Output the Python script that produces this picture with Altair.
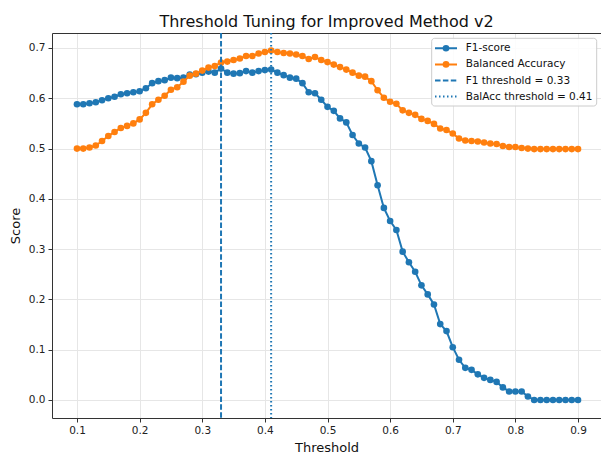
import altair as alt
import pandas as pd

# Decision thresholds swept from 0.10 to 0.90
thresholds = [round(0.10 + 0.01 * i, 2) for i in range(81)]

f1_score = [
    0.588, 0.588, 0.590, 0.592, 0.596, 0.600, 0.603, 0.608, 0.610, 0.612,
    0.614, 0.620, 0.630, 0.634, 0.636, 0.641, 0.640, 0.641, 0.647, 0.648,
    0.651, 0.653, 0.651, 0.659, 0.651, 0.649, 0.650, 0.654, 0.651, 0.654,
    0.656, 0.657, 0.651, 0.646, 0.641, 0.639, 0.630, 0.612, 0.610, 0.597,
    0.583, 0.575, 0.560, 0.552, 0.527, 0.510, 0.502, 0.475, 0.427, 0.382,
    0.356, 0.338, 0.295, 0.274, 0.255, 0.228, 0.210, 0.190, 0.151, 0.137,
    0.105, 0.080, 0.064, 0.060, 0.051, 0.044, 0.040, 0.036, 0.025, 0.017,
    0.017, 0.017, 0.007, 0.000, 0.000, 0.000, 0.000, 0.000, 0.000, 0.000,
    0.000,
]

balanced_accuracy = [
    0.500, 0.500, 0.502, 0.506, 0.515, 0.525, 0.533, 0.541, 0.545, 0.550,
    0.558, 0.571, 0.588, 0.597, 0.605, 0.617, 0.622, 0.633, 0.645, 0.649,
    0.655, 0.661, 0.664, 0.671, 0.673, 0.676, 0.679, 0.684, 0.684, 0.689,
    0.692, 0.695, 0.692, 0.690, 0.689, 0.687, 0.684, 0.678, 0.682, 0.676,
    0.672, 0.667, 0.662, 0.657, 0.651, 0.645, 0.643, 0.634, 0.616, 0.601,
    0.593, 0.589, 0.576, 0.571, 0.567, 0.559, 0.555, 0.549, 0.540, 0.537,
    0.530, 0.520, 0.516, 0.515, 0.514, 0.512, 0.510, 0.509, 0.505, 0.503,
    0.503, 0.501, 0.500, 0.499, 0.499, 0.499, 0.499, 0.499, 0.499, 0.499,
    0.499,
]

x_ticks = [0.1, 0.2, 0.3, 0.4, 0.5, 0.6, 0.7, 0.8, 0.9]
y_ticks = [0.0, 0.1, 0.2, 0.3, 0.4, 0.5, 0.6, 0.7]

BLUE = "#1f77b4"
ORANGE = "#ff7f0e"

# Best threshold for each metric
best_f1_t = thresholds[f1_score.index(max(f1_score))]
best_ba_t = thresholds[balanced_accuracy.index(max(balanced_accuracy))]

f1_label = "F1-score"
ba_label = "Balanced Accuracy"
f1_thr_label = f"F1 threshold = {best_f1_t:.2f}"
ba_thr_label = f"BalAcc threshold = {best_ba_t:.2f}"
labels = [f1_label, ba_label, f1_thr_label, ba_thr_label]

scores = pd.concat([
    pd.DataFrame({"threshold": thresholds, "score": f1_score, "series": f1_label}),
    pd.DataFrame({"threshold": thresholds, "score": balanced_accuracy, "series": ba_label}),
])
rules = pd.DataFrame({"threshold": [best_f1_t, best_ba_t], "series": [f1_thr_label, ba_thr_label]})

color_scale = alt.Scale(domain=labels, range=[BLUE, ORANGE, BLUE, BLUE])
dash_scale = alt.Scale(domain=labels, range=[[1, 0], [1, 0], [5.5, 2.4], [1.5, 2.5]])
color_enc = alt.Color("series:N", scale=color_scale, legend=None)
dash_enc = alt.StrokeDash("series:N", scale=dash_scale, legend=None)

x_enc = alt.X(
    "threshold:Q",
    scale=alt.Scale(domain=[0.0601, 0.9367], nice=False, zero=False),
    axis=alt.Axis(values=x_ticks, format=".1f", title="Threshold"),
)
y_enc = alt.Y(
    "score:Q",
    scale=alt.Scale(domain=[-0.0358, 0.7298], nice=False, zero=False),
    axis=alt.Axis(values=y_ticks, format=".1f", title="Score"),
)

base = alt.Chart(scores)


def curve(name):
    src = base.transform_filter(alt.datum.series == name)
    line = src.mark_line(strokeWidth=2).encode(x=x_enc, y=y_enc, color=color_enc)
    dots = src.mark_point(filled=True, size=44, opacity=1).encode(x=x_enc, y=y_enc, color=color_enc)
    return line + dots


threshold_rules = alt.Chart(rules).mark_rule(strokeWidth=2).encode(
    x=x_enc, color=color_enc, strokeDash=dash_enc
)

# Legend box in the upper-right corner of the plot
LEG_X0, LEG_X1, LEG_Y0, LEG_Y1 = 379.7, 544.7, 5.3, 73.0
SYM_X0, SYM_X1, SYM_DOT, TXT_X = 383.0, 405.0, 394.0, 413.7
ROW_Y = [15.3, 31.4, 47.5, 63.6]

legend_layers = [
    alt.Chart(pd.DataFrame({"series": ["box"]})).mark_rect(
        fill="white", fillOpacity=0.85, stroke="#cccccc", strokeWidth=1, cornerRadius=3
    ).encode(
        x=alt.value(LEG_X0), x2=alt.value(LEG_X1), y=alt.value(LEG_Y0), y2=alt.value(LEG_Y1)
    )
]
for label, row_y in zip(labels, ROW_Y):
    entry = alt.Chart(pd.DataFrame({"series": [label]}))
    legend_layers.append(
        entry.mark_rule(strokeWidth=2).encode(
            x=alt.value(SYM_X0), x2=alt.value(SYM_X1), y=alt.value(row_y),
            color=color_enc, strokeDash=dash_enc,
        )
    )
    if label in (f1_label, ba_label):
        legend_layers.append(
            entry.mark_point(filled=True, size=44, opacity=1).encode(
                x=alt.value(SYM_DOT), y=alt.value(row_y), color=color_enc
            )
        )
    legend_layers.append(
        entry.mark_text(align="left", baseline="middle", fontSize=10.5, color="#111111").encode(
            x=alt.value(TXT_X), y=alt.value(row_y), text="series:N"
        )
    )

main = alt.layer(curve(f1_label), curve(ba_label), threshold_rules, *legend_layers)

# Top spine of the frame
top_spine = base.mark_point(opacity=0).encode(
    x=alt.X(
        "threshold:Q",
        axis=alt.Axis(
            orient="top", labels=False, ticks=False, grid=False, domain=True, title=None,
            minExtent=0, maxExtent=0, labelPadding=0, tickSize=0,
        ),
    )
)

chart = (
    alt.layer(main, top_spine)
    .resolve_axis(x="independent")
    .properties(
        width=549,
        height=385,
        autosize=alt.AutoSizeParams(type="none"),
        padding={"left": 52, "top": 33, "right": 0, "bottom": 36},
        title=alt.TitleParams(
            "Threshold Tuning for Improved Method v2",
            fontSize=16,
            fontWeight="normal",
            anchor="middle",
            baseline="alphabetic",
            offset=6,
            dy=17,
            color="#111111",
        ),
    )
    .configure(font="DejaVu Sans")
    .configure_view(stroke=None)
    .configure_axis(
        labelFontSize=10.5,
        labelColor="#222222",
        labelPadding=3,
        tickColor="#333333",
        tickSize=4,
        domainColor="#333333",
        domainWidth=1,
        gridColor="#e6e6e6",
        gridWidth=1,
        titleFontSize=13,
        titleFontWeight="normal",
        titleColor="#111111",
    )
    .configure_axisX(titlePadding=6)
    .configure_axisY(titlePadding=6)
)

chart.save("out.html", embed_options={"renderer": "svg", "actions": False})
